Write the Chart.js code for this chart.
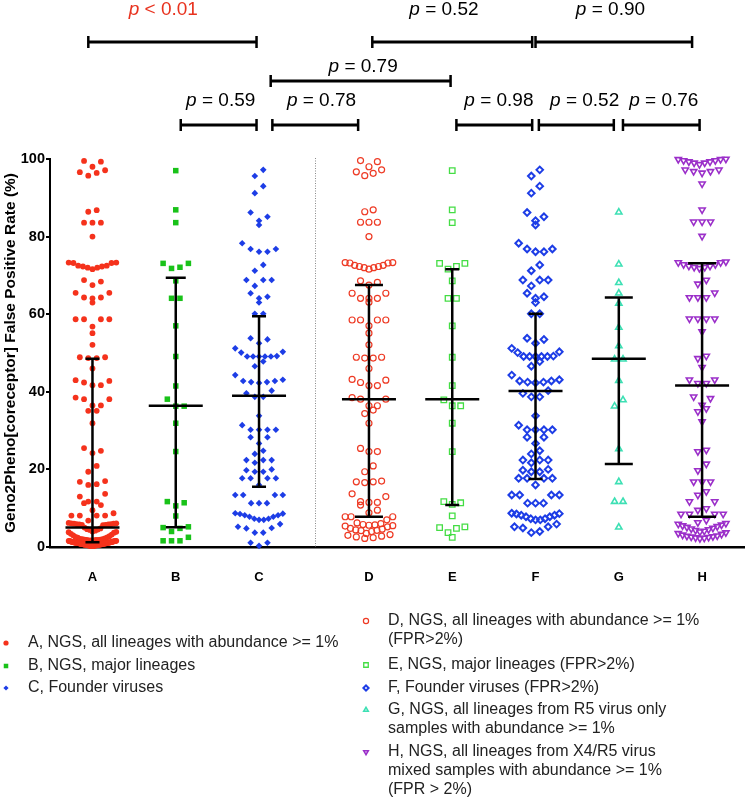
<!DOCTYPE html>
<html>
<head>
<meta charset="utf-8">
<script src="https://cdn.jsdelivr.net/npm/chart.js@4.4.1/dist/chart.umd.min.js"></script>
<style>
  html, body { margin: 0; padding: 0; background: #fff; }
  #wrap { width: 750px; height: 798px; }
</style>
</head>
<body>
<div id="wrap"><canvas id="chart" width="750" height="798"></canvas></div>
<script>
// ===========================
// DATA
// ===========================

const groups = ["A", "B", "C", "D", "E", "F", "G", "H"];

const valuesA = [
  99.5, 99.3, 98.0, 97.1, 96.6, 96.4, 95.7,
  86.8, 86.4, 83.6, 83.6, 83.6, 80.0,
  73.3, 73.2, 72.5, 72.3, 72.0, 71.6, 72.0, 72.3, 72.5, 73.2, 73.3,
  68.8, 68.4, 67.5, 65.5, 65.5, 64.3, 64.3, 64.1, 63.0,
  58.7, 58.7, 58.7, 58.7, 56.8, 55.1, 52.1,
  48.9, 48.9, 48.7, 48.7, 46.0,
  43.0, 42.8, 42.4, 41.7, 41.7,
  38.5, 38.1, 38.1, 36.5, 36.5, 35.1, 35.1, 31.9,
  25.5, 24.8, 24.2, 20.9, 19.4,
  17.0, 16.8, 16.2, 16.0, 13.7, 13.0, 11.7, 11.7, 11.3, 10.8,
  9.5, 8.7, 8.1, 8.1, 8.1, 8.1, 6.8,
  6.2, 6.1, 6.0, 5.9, 5.8, 5.7, 5.6, 5.7, 5.8, 5.9, 6.0, 6.1,
  5.0, 4.8, 4.6, 4.5, 4.4, 4.2, 4.0, 3.9, 3.8, 3.7,
  3.4, 3.2, 3.0, 2.8, 2.6, 2.5, 2.4, 2.2, 2.1,
  2.0, 2.0, 1.9, 1.9, 1.8, 1.8, 1.8, 1.7, 1.7, 1.7, 1.6, 1.6, 1.6,
  1.5, 1.5, 1.5, 1.5, 1.4, 1.4, 1.4, 1.4, 1.3, 1.3, 1.3, 1.3,
  1.2, 1.2, 1.2, 1.2, 1.1, 1.1, 1.1, 1.1, 1.1, 1.0, 1.0, 1.0, 1.0, 1.0, 1.0,
  0.9, 0.9, 0.9, 0.9, 0.9, 0.8, 0.8, 0.8, 0.8, 0.8, 0.7, 0.7, 0.7, 0.7, 0.7,
  0.6, 0.6, 0.6, 0.6, 0.6, 0.5, 0.5, 0.5, 0.5, 0.5, 0.4, 0.4, 0.4, 0.4,
  0.3, 0.3, 0.3, 0.3, 0.2, 0.2, 0.2
];

const valuesB = [
  97.0, 86.9, 83.6, 73.1, 72.1, 71.8, 73.1, 68.6, 64.1, 64.1, 57.0, 49.1,
  41.5, 38.1, 36.3, 36.3, 31.9, 24.6, 11.7, 11.4, 10.6, 8.0,
  5.2, 5.0, 4.8, 4.0, 2.5, 1.6, 1.6, 1.6
];

const valuesC = [
  97.2, 95.6, 93.0, 91.2,
  86.2, 85.1, 84.1, 83.0,
  78.3, 76.8, 76.1, 76.1, 76.8,
  72.7, 71.2,
  68.8, 68.8, 68.8, 67.3,
  65.4, 64.5, 64.1, 63.0,
  60.1, 60.1,
  53.8, 53.5, 52.5, 51.2, 50.3, 50.1, 49.2, 49.1, 49.1, 49.1, 49.1, 49.1, 47.8, 46.6,
  44.3, 42.8, 42.5, 42.3, 42.5, 42.8, 43.1,
  40.3, 39.6, 38.7, 38.7,
  33.8, 31.4,
  30.2, 30.2, 30.2, 30.2, 28.3, 28.3, 26.7,
  24.8, 24.0, 22.4, 22.4, 22.4, 21.7,
  20.0, 19.8, 19.4, 19.4,
  17.7, 17.7, 17.7, 17.7, 16.0,
  13.4, 13.4, 13.4, 13.4, 11.3, 11.3, 11.3,
  8.7, 8.5, 8.2, 7.8, 7.3, 7.0, 7.0, 7.3, 7.8, 8.2, 8.6,
  5.9, 5.2, 4.9, 4.8,
  3.7, 3.7,
  1.1, 1.1, 0.3
];

const valuesD = [
  99.6, 99.3, 98.0, 97.2, 96.7, 96.3, 95.7,
  86.9, 86.4, 83.7, 83.7, 83.7, 80.0,
  73.3, 73.2, 72.6, 72.3, 72.0, 71.6, 72.0, 72.3, 72.6, 73.2, 73.3,
  68.6, 68.2, 67.5, 65.4, 65.4, 64.1, 64.1, 64.1, 63.1,
  58.5, 58.5, 58.5, 58.5, 57.0, 55.1, 52.1,
  48.9, 48.9, 48.7, 48.7, 46.0,
  43.2, 43.0, 42.4, 41.6, 41.6,
  38.5, 38.1, 38.1, 36.4, 36.4, 35.3, 34.4, 31.9,
  25.4, 24.6, 24.6, 20.9, 19.4,
  17.0, 16.8, 16.6, 16.8, 13.7, 13.0, 11.7, 11.5, 11.5, 10.8,
  9.5, 8.8, 7.8, 7.8, 7.8, 7.0,
  6.2, 6.0, 5.8, 5.7, 5.6, 5.5, 5.4, 5.2, 4.8, 4.6, 4.4, 4.3, 4.2, 4.0,
  3.5, 3.2, 3.0, 2.8, 2.6, 2.4, 2.2
];

const valuesE = [
  97.0, 86.9, 83.6, 73.1, 72.3, 71.6, 73.1, 68.6, 64.1, 64.1, 57.0, 48.9,
  41.6, 37.9, 36.4, 36.4, 31.9, 24.6, 11.7, 11.4, 11.0, 8.0,
  5.2, 5.0, 4.8, 3.7, 2.5
];

const valuesF = [
  97.2, 95.6, 93.0, 91.2,
  86.2, 85.1, 84.1, 83.0,
  78.3, 76.8, 76.1, 76.1, 76.8,
  72.7, 71.2,
  68.8, 68.8, 68.8, 67.3,
  65.4, 64.5, 64.1, 63.0,
  60.1, 60.1,
  53.8, 53.5, 52.5, 51.2, 50.3, 50.1, 49.2, 49.1, 49.1, 49.1, 49.1, 49.1, 47.8, 46.6,
  44.3, 42.8, 42.5, 42.3, 42.5, 42.8, 43.1,
  40.3, 39.6, 38.7, 38.7,
  33.8, 31.4,
  30.2, 30.2, 30.2, 30.2, 28.3, 28.3, 26.7,
  24.8, 24.0, 22.4, 22.4, 22.4, 21.7,
  20.0, 19.8, 19.4, 19.4,
  17.7, 17.7, 17.7, 17.7, 16.0,
  13.4, 13.4, 13.4, 13.4, 11.3, 11.3, 11.3,
  8.7, 8.5, 8.2, 7.8, 7.3, 7.0, 7.0, 7.3, 7.8, 8.2, 8.6,
  5.9, 5.2, 5.2, 4.9, 4.0, 3.7
];

const valuesG = [
  86.3, 72.9, 68.1, 65.4, 62.8, 56.6, 51.8, 48.4, 48.4, 42.9,
  37.9, 36.3, 25.3, 16.8, 11.7, 11.7, 5.1
];

const valuesH = [
  100.0, 99.9, 99.6, 99.3, 99.0, 98.6, 99.0, 99.3, 99.6, 99.9,
  97.2, 96.8, 96.4, 96.8, 97.2,
  93.6,
  86.9, 83.8, 83.8, 83.8, 80.1,
  73.3, 72.8, 72.4, 72.1, 71.8, 72.1, 72.4, 72.8, 73.3, 73.5,
  68.8, 67.8, 65.5, 64.3, 64.3, 64.3,
  58.8, 58.8, 58.8, 58.8, 55.5,
  49.2, 48.6, 46.3,
  43.1, 42.2, 42.2, 43.1,
  38.7, 38.3, 36.6, 35.7, 34.9, 32.3,
  25.0, 24.6, 21.4, 19.7,
  16.8, 16.8, 16.8, 14.3, 13.4, 11.7, 11.7,
  9.9, 9.5, 8.5, 8.5, 8.5, 8.5, 6.9,
  6.3, 6.1, 5.9, 5.7, 5.5, 5.3, 5.1, 4.9, 4.7, 4.5, 4.3, 4.1, 3.9,
  3.7, 3.5, 3.3, 3.1, 2.9, 2.8, 2.7, 2.6, 2.5, 2.4, 2.3, 2.2
];

// median and interquartile range drawn as error bars
const medians = [5.0, 36.4, 39.0, 38.1, 38.1, 40.2, 48.5, 41.6];
const q1s = [1.2, 5.1, 15.5, 7.8, 10.8, 17.5, 21.4, 7.8];
const q3s = [48.5, 69.4, 59.5, 67.5, 71.6, 60.1, 64.3, 73.1];

const legendLines = [
  ["A, NGS, all lineages with abundance >= 1%"],
  ["B, NGS, major lineages"],
  ["C, Founder viruses"],
  ["D, NGS, all lineages with abundance >= 1%", "(FPR>2%)"],
  ["E, NGS, major lineages (FPR>2%)"],
  ["F, Founder viruses (FPR>2%)"],
  ["G, NGS, all lineages from R5 virus only", "samples with abundance >= 1%"],
  ["H, NGS, all lineages from X4/R5 virus", "mixed samples with abundance >= 1%", "(FPR > 2%)"]
];

const pLabels = ["< 0.01", "= 0.52", "= 0.90", "= 0.79", "= 0.59", "= 0.78", "= 0.98", "= 0.52", "= 0.76"];

// ===========================
// LAYOUT / STYLE
// ===========================

const FONT = '"Liberation Sans", Arial, sans-serif';
const Y_PX = 3.88;    // pixels per percent on the y axis
const X_PX = 84;      // pixels per category step
const ROW_H = 2.2;    // values closer than this share a swarm row
const STEP_PX = 8.5;  // spacing between symbols in a row
const MAX_HALF = 24;  // widest a row may spread either side
const groupPos = [0.51, 1.51, 2.51, 3.83, 4.83, 5.83, 6.83, 7.83];
const separatorPos = 3.18;
const capHalf = [7, 10, 7, 14, 7, 7, 14, 14];

// p-value brackets, in x-axis units, with row index and text centre
const pFrom = [0.46, 3.87, 5.83, 2.65, 1.57, 2.67, 4.88, 5.87, 6.88];
const pTo = [2.48, 5.79, 7.71, 4.81, 2.48, 3.70, 5.79, 6.77, 7.80];
const pText = [1.36, 4.73, 6.73, 3.76, 2.05, 3.26, 5.39, 6.42, 7.37];
const pRow = [0, 0, 0, 1, 2, 2, 2, 2, 2];
const rowLineY = [42, 81, 125];
const rowTextY = [10, 67, 101];

const seriesStyle = [
  { style: "circle", r: 2.9, fill: "#f5321c", border: "#f5321c", bw: 0, rot: 0 },
  { style: "rect", r: 3.9, fill: "#19c219", border: "#19c219", bw: 0, rot: 0 },
  { style: "rectRot", r: 3.3, fill: "#1d3de6", border: "#1d3de6", bw: 0, rot: 0 },
  { style: "circle", r: 3.0, fill: "rgba(0,0,0,0)", border: "#ee3a24", bw: 1.2, rot: 0 },
  { style: "rect", r: 3.9, fill: "rgba(0,0,0,0)", border: "#44dd44", bw: 1.3, rot: 0 },
  { style: "rectRot", r: 3.3, fill: "rgba(0,0,0,0)", border: "#1d3de6", bw: 2, rot: 0 },
  { style: "triangle", r: 3.6, fill: "rgba(0,0,0,0)", border: "#3de0b4", bw: 1.6, rot: 0 },
  { style: "triangle", r: 3.6, fill: "rgba(0,0,0,0)", border: "#9b2fc9", bw: 1.6, rot: 180 }
];

const legendPos = [
  { mx: 6, tx: 28, y: 643 },
  { mx: 6, tx: 28, y: 666 },
  { mx: 6, tx: 28, y: 688 },
  { mx: 366, tx: 388, y: 621 },
  { mx: 366, tx: 388, y: 665 },
  { mx: 366, tx: 388, y: 688 },
  { mx: 366, tx: 388, y: 710 },
  { mx: 366, tx: 388, y: 752 }
];

// ===========================
// SCATTER ROWS (Prism style)
// values are grouped into rows from the top down; each row is spread
// sideways around the centre, lowest value in the middle
// ===========================

function swarm(values, center) {
  const order = values.map((v, i) => i).sort((a, b) => values[b] - values[a]);
  const out = new Array(values.length);
  let k = 0;
  while (k < order.length) {
    const top = values[order[k]];
    const row = [];
    while (k < order.length && top - values[order[k]] <= ROW_H + 1e-9) {
      row.push(order[k]);
      k++;
    }
    row.sort((a, b) => values[a] - values[b]);
    const n = row.length;
    const step = n > 1 ? Math.min(STEP_PX, (2 * MAX_HALF) / (n - 1)) : 0;
    row.forEach((idx, j) => {
      let slot;
      if (n % 2) slot = j === 0 ? 0 : (j % 2 ? 1 : -1) * Math.ceil(j / 2);
      else slot = (j % 2 ? 1 : -1) * (Math.floor(j / 2) + 0.5);
      out[idx] = { x: center + (slot * step) / X_PX, y: values[idx] };
    });
  }
  return out;
}

// ===========================
// PLUGINS
// ===========================

const separatorPlugin = {
  id: "separator",
  beforeDatasetsDraw(chart) {
    const { ctx, scales } = chart;
    const x = Math.round(scales.x.getPixelForValue(separatorPos)) + 0.5;
    ctx.save();
    ctx.strokeStyle = "#8a8a8a";
    ctx.lineWidth = 1;
    ctx.setLineDash([1, 1.5]);
    ctx.beginPath();
    ctx.moveTo(x, chart.chartArea.top - 1);
    ctx.lineTo(x, chart.chartArea.bottom);
    ctx.stroke();
    ctx.restore();
  }
};

const errorBarPlugin = {
  id: "errorBars",
  afterDatasetsDraw(chart) {
    const { ctx, scales } = chart;
    ctx.save();
    ctx.strokeStyle = "#000";
    ctx.lineWidth = 2.5;
    groupPos.forEach((g, i) => {
      const xc = scales.x.getPixelForValue(g);
      const ym = scales.y.getPixelForValue(medians[i]);
      const y1 = scales.y.getPixelForValue(q1s[i]);
      const y3 = scales.y.getPixelForValue(q3s[i]);
      ctx.beginPath();
      ctx.moveTo(xc - 27, ym); ctx.lineTo(xc + 27, ym);
      ctx.moveTo(xc, y1); ctx.lineTo(xc, y3);
      ctx.moveTo(xc - capHalf[i], y1); ctx.lineTo(xc + capHalf[i], y1);
      ctx.moveTo(xc - capHalf[i], y3); ctx.lineTo(xc + capHalf[i], y3);
      ctx.stroke();
    });
    ctx.restore();
  }
};

const bracketPlugin = {
  id: "brackets",
  afterDraw(chart) {
    const { ctx, scales } = chart;
    ctx.save();
    pLabels.forEach((label, i) => {
      const x1 = scales.x.getPixelForValue(pFrom[i]);
      const x2 = scales.x.getPixelForValue(pTo[i]);
      const y = rowLineY[pRow[i]];
      ctx.strokeStyle = "#000";
      ctx.lineWidth = 3;
      ctx.beginPath();
      ctx.moveTo(x1, y); ctx.lineTo(x2, y);
      ctx.stroke();
      ctx.lineWidth = 2.5;
      ctx.beginPath();
      ctx.moveTo(x1, y - 6); ctx.lineTo(x1, y + 6);
      ctx.moveTo(x2, y - 6); ctx.lineTo(x2, y + 6);
      ctx.stroke();

      // italic p followed by the value
      const pFont = "italic 19px " + FONT;
      const vFont = "19px " + FONT;
      ctx.font = pFont;
      const wp = ctx.measureText("p").width;
      ctx.font = vFont;
      const rest = " " + label;
      const wr = ctx.measureText(rest).width;
      const tx = scales.x.getPixelForValue(pText[i]) - (wp + wr) / 2;
      const ty = rowTextY[pRow[i]];
      ctx.fillStyle = i === 0 ? "#e8321e" : "#000";
      ctx.textBaseline = "middle";
      ctx.textAlign = "left";
      ctx.font = pFont;
      ctx.fillText("p", tx, ty);
      ctx.font = vFont;
      ctx.fillText(rest, tx + wp, ty);
    });
    ctx.restore();
  }
};

const legendPlugin = {
  id: "sideLegend",
  afterDraw(chart) {
    const ctx = chart.ctx;
    ctx.save();
    legendLines.forEach((lines, i) => {
      const pos = legendPos[i];
      const s = seriesStyle[i];
      ctx.save();
      ctx.fillStyle = s.fill;
      ctx.strokeStyle = s.border;
      ctx.lineWidth = s.bw;
      Chart.helpers.drawPoint(ctx, {
        pointStyle: s.style,
        radius: s.style === "rect" ? 3.2 : 2.6,
        rotation: s.rot,
        borderWidth: s.bw
      }, pos.mx, pos.y);
      ctx.restore();
      ctx.font = "16px " + FONT;
      ctx.fillStyle = "#222";
      ctx.textBaseline = "middle";
      ctx.textAlign = "left";
      lines.forEach((t, k) => ctx.fillText(t, pos.tx, pos.y + k * 19));
    });
    ctx.restore();
  }
};

// ===========================
// BUILD CHART
// ===========================

const groupValues = [valuesA, valuesB, valuesC, valuesD, valuesE, valuesF, valuesG, valuesH];

const datasets = groupValues.map((vals, i) => {
  const s = seriesStyle[i];
  return {
    label: legendLines[i].join(" "),
    data: swarm(vals, groupPos[i]),
    showLine: false,
    clip: false,
    pointStyle: s.style,
    pointRadius: s.r,
    pointRotation: s.rot,
    pointBackgroundColor: s.fill,
    pointBorderColor: s.border,
    pointBorderWidth: s.bw
  };
});

new Chart(document.getElementById("chart"), {
  type: "scatter",
  data: { datasets: datasets },
  options: {
    responsive: false,
    devicePixelRatio: 1,
    animation: false,
    events: [],
    layout: { padding: { top: 159, left: 0, right: 0, bottom: 211 } },
    plugins: {
      legend: { display: false },
      tooltip: { enabled: false }
    },
    scales: {
      x: {
        type: "linear",
        min: 0,
        max: 700 / X_PX,
        afterBuildTicks: (axis) => {
          axis.ticks = groupPos.map((v) => ({ value: v }));
        },
        afterFit: (axis) => { axis.height = 40; },
        ticks: {
          autoSkip: false,
          maxRotation: 0,
          padding: 23,
          color: "#000",
          font: { family: FONT, size: 13, weight: "bold" },
          callback: (v, i) => groups[i]
        },
        grid: { display: false, drawTicks: false },
        border: { display: true, color: "#000", width: 2.5 }
      },
      y: {
        min: 0,
        max: 100,
        afterFit: (axis) => { axis.width = 50; },
        ticks: {
          stepSize: 20,
          padding: 1,
          color: "#000",
          font: { family: FONT, size: 14.5, weight: "bold" }
        },
        grid: {
          display: true,
          drawOnChartArea: false,
          drawTicks: true,
          tickLength: 4,
          color: "#000",
          lineWidth: 2
        },
        border: { display: true, color: "#000", width: 2 },
        title: {
          display: true,
          text: "Geno2Pheno[coreceptor] False Positive Rate (%)",
          color: "#000",
          font: { family: FONT, size: 15.5, weight: "bold" },
          padding: { top: 1, bottom: 0 }
        }
      }
    }
  },
  plugins: [separatorPlugin, errorBarPlugin, bracketPlugin, legendPlugin]
});
</script>
</body>
</html>
